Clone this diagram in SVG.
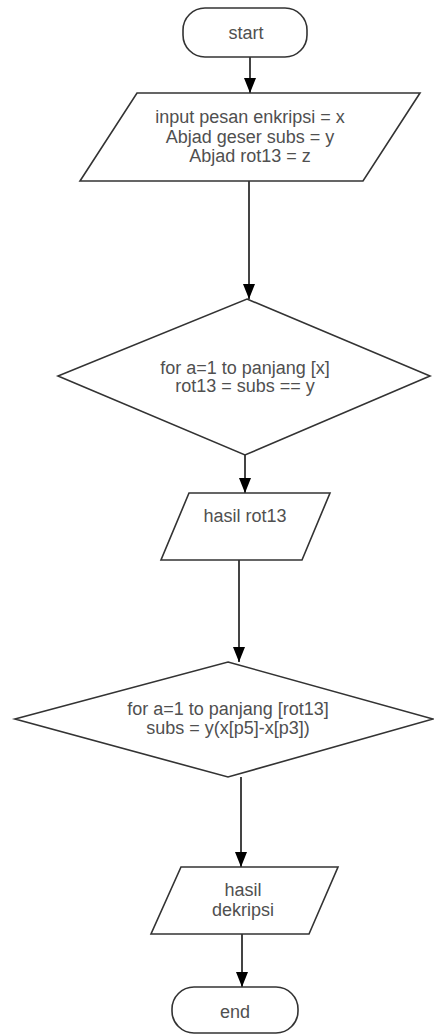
<svg xmlns="http://www.w3.org/2000/svg" width="434" height="1036" viewBox="0 0 434 1036">
<style>
.shape{fill:#fff;stroke:#333;stroke-width:1.6}
.t{font-family:"Liberation Sans",Arial,sans-serif;font-size:18px;fill:#505050;text-anchor:middle}
.edge{stroke:#444;stroke-width:2;fill:none;marker-end:url(#arr)}
</style>
<defs>
<marker id="arr" markerUnits="userSpaceOnUse" markerWidth="16" markerHeight="14" refX="15" refY="7" orient="auto" viewBox="0 0 16 14">
<path d="M0,1 L15,7 L0,13 Z" fill="#000"/>
</marker>
</defs>
<rect width="434" height="1036" fill="#fff"/>
<g id="connectors">
<path class="edge" d="M250,57 L250,93"/>
<path class="edge" d="M249,181 L249,299"/>
<path class="edge" d="M245,455 L245,493"/>
<path class="edge" d="M239,560 L239,662"/>
<path class="edge" d="M241,777 L241,867"/>
<path class="edge" d="M242,934 L242,987"/>
</g>
<g id="start">
<rect class="shape" x="183" y="8" width="124" height="49" rx="22"/>
<text class="t" x="246" y="39">start</text>
</g>
<g id="input">
<polygon class="shape" points="137,93 420,93 363,181 80,181"/>
<text class="t" x="250" y="123">input pesan enkripsi = x</text>
<text class="t" x="250" y="143">Abjad geser subs = y</text>
<text class="t" x="250" y="162">Abjad rot13 = z</text>
</g>
<g id="loop1">
<polygon class="shape" points="247,299 430,376 245,455 58,376"/>
<text class="t" x="245" y="374">for a=1 to panjang [x]</text>
<text class="t" x="245" y="392">rot13 = subs == y</text>
</g>
<g id="hasilrot13">
<polygon class="shape" points="189,493 330,493 302,560 161,560"/>
<text class="t" x="245" y="522">hasil rot13</text>
</g>
<g id="loop2">
<polygon class="shape" points="228,662 433,719 228,777 15,719"/>
<text class="t" x="228" y="715">for a=1 to panjang [rot13]</text>
<text class="t" x="228" y="734">subs = y(x[p5]-x[p3])</text>
</g>
<g id="hasildekripsi">
<polygon class="shape" points="181,867 338,867 309,934 151,934"/>
<text class="t" x="243" y="896">hasil</text>
<text class="t" x="243" y="916">dekripsi</text>
</g>
<g id="end">
<rect class="shape" x="172" y="987" width="126" height="46" rx="22"/>
<text class="t" x="235" y="1018">end</text>
</g>
</svg>
